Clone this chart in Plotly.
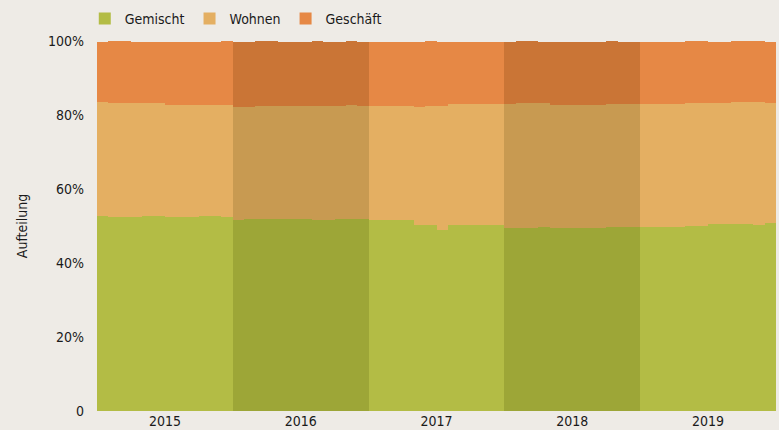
import plotly.graph_objects as go

years = ["2015", "2016", "2017", "2018", "2019"]
months = [f"{y}-{m:02d}" for y in years for m in range(1, 13)]

gemischt = [
    52.8, 52.4, 52.4, 52.4, 52.8, 52.8, 52.4, 52.4, 52.4, 52.8, 52.8, 52.4,
    51.6, 51.9, 51.9, 51.9, 51.9, 51.9, 51.9, 51.6, 51.6, 51.9, 51.9, 51.9,
    51.6, 51.6, 51.6, 51.6, 50.3, 50.3, 48.9, 50.3, 50.3, 50.3, 50.3, 50.3,
    49.5, 49.5, 49.5, 49.7, 49.5, 49.5, 49.5, 49.5, 49.5, 49.7, 49.7, 49.7,
    49.7, 49.7, 49.7, 49.7, 50.0, 50.0, 50.5, 50.5, 50.5, 50.5, 50.3, 50.8,
]
wohnen = [
    30.7, 30.8, 30.8, 30.8, 30.4, 30.4, 30.3, 30.3, 30.3, 29.9, 29.9, 30.3,
    30.6, 30.3, 30.5, 30.5, 30.5, 30.5, 30.5, 30.8, 30.8, 30.5, 30.8, 30.5,
    30.8, 30.8, 30.8, 30.8, 31.9, 32.1, 33.5, 32.7, 32.7, 32.7, 32.7, 32.7,
    33.5, 33.7, 33.7, 33.5, 33.2, 33.2, 33.2, 33.2, 33.2, 33.3, 33.3, 33.3,
    33.3, 33.3, 33.3, 33.3, 33.2, 33.2, 32.7, 32.7, 33.0, 33.0, 33.2, 32.4,
]
geschaeft = [
    16.2, 16.8, 16.8, 16.5, 16.5, 16.5, 17.0, 17.0, 17.0, 17.0, 17.0, 17.3,
    17.5, 17.5, 17.6, 17.6, 17.3, 17.3, 17.3, 17.6, 17.3, 17.3, 17.3, 17.3,
    17.3, 17.3, 17.3, 17.3, 17.5, 17.6, 17.3, 16.7, 16.7, 16.7, 16.7, 16.7,
    16.7, 16.8, 16.8, 16.5, 17.0, 17.0, 17.0, 17.0, 17.0, 17.0, 16.7, 16.7,
    16.7, 16.7, 16.7, 16.7, 16.8, 16.8, 16.5, 16.5, 16.5, 16.5, 16.5, 16.5,
]
y_tickvals = [0, 20, 40, 60, 80, 100]
y_ticktext = ["0", "20%", "40%", "60%", "80%", "100%"]

shaded_years = {"2016", "2018"}
colors = {
    "Gemischt": ("#B3BC45", "#9DA637"),
    "Wohnen": ("#E4AF62", "#C89A51"),
    "Geschäft": ("#E68845", "#CA7536"),
}

x = list(range(len(months)))
FONT = "Liberation Sans Narrow, DejaVu Sans Condensed, Arial Narrow, sans-serif"

fig = go.Figure()
for name, vals in [("Gemischt", gemischt), ("Wohnen", wohnen), ("Geschäft", geschaeft)]:
    normal, dark = colors[name]
    cols = [dark if m[:4] in shaded_years else normal for m in months]
    fig.add_trace(go.Bar(
        x=x, y=vals, name=name, customdata=months,
        marker=dict(color=cols, line=dict(width=0)),
        hovertemplate="%{customdata}: %{y}%<extra>" + name + "</extra>",
    ))

fig.update_layout(
    width=779, height=430,
    barmode="stack", bargap=0,
    paper_bgcolor="#EEEBE6", plot_bgcolor="#EEEBE6",
    margin=dict(l=97, r=3, t=41, b=19, autoexpand=False),
    font=dict(family=FONT, size=14, color="#1a1a1a"),
    showlegend=True,
    legend=dict(orientation="h", x=-0.018, xanchor="left", xref="paper",
                y=1 - 19 / 430, yanchor="middle", yref="container",
                font=dict(size=14), bgcolor="rgba(0,0,0,0)", traceorder="normal"),
    xaxis=dict(range=[-0.5, len(months) - 0.5], tickvals=[5.5 + 12 * i for i in range(len(years))],
               ticktext=years, showgrid=False, zeroline=False, ticks="", showline=False,
               automargin=False, tickfont=dict(size=14), ticklabelstandoff=0),
    yaxis=dict(range=[0, 100], tickvals=y_tickvals, ticktext=y_ticktext, showgrid=False,
               zeroline=False, ticks="", automargin=False, ticklabelstandoff=12,
               title=dict(text="Aufteilung", font=dict(size=14), standoff=17)),
)
fig.write_html(
    "out.html",
    config={"displayModeBar": False},
    post_script="document.body.style.margin='0';document.body.style.background='#EEEBE6';",
)
